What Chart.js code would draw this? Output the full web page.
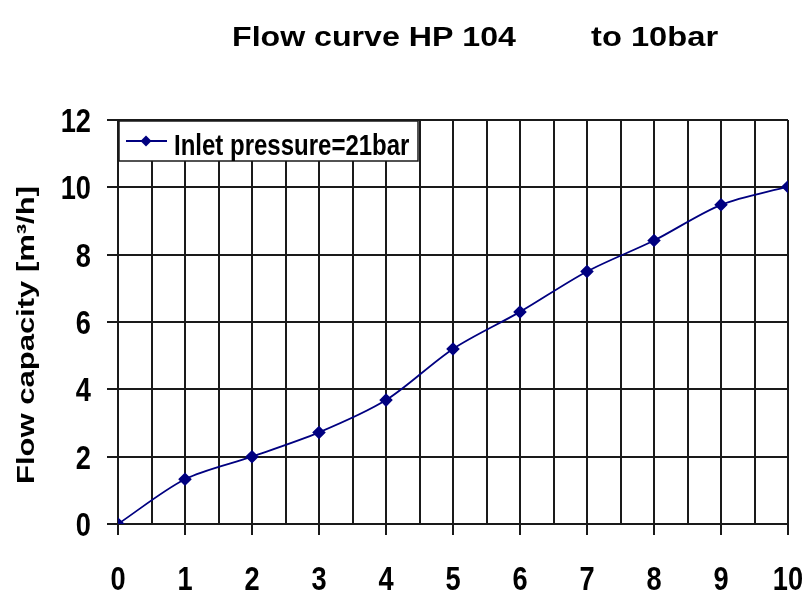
<!DOCTYPE html>
<html>
<head>
<meta charset="utf-8">
<script src="https://cdn.jsdelivr.net/npm/chart.js@4/dist/chart.umd.min.js"></script>
<style>
html,body{margin:0;padding:0;background:#fff;overflow:hidden;}
#wrap{position:relative;width:840px;height:601px;}
</style>
</head>
<body>
<div id="wrap"><canvas id="c"></canvas></div>
<script>
const pressures = [0, 1, 2, 3, 4, 5, 6, 7, 8, 9, 10];
const flow = [0, 1.33, 2.0, 2.72, 3.68, 5.2, 6.3, 7.5, 8.42, 9.48, 10.02];
const yTicks = [0, 2, 4, 6, 8, 10, 12];
const xLabels = ['0', '1', '2', '3', '4', '5', '6', '7', '8', '9', '10'];
const seriesLabel = 'Inlet pressure=21bar';
const titleLeft = 'Flow curve HP 104';
const titleRight = 'to 10bar';
const yTitle = 'Flow capacity [m\u00B3/h]';

const FONT = '"Liberation Sans", Arial, sans-serif';
const LINE = '#000080';
const GRID = '#1a1a1a';
const SQUEEZE = 0.8;

function drawText(c, text, x, y, o) {
  c.save();
  c.translate(x, y);
  if (o.rotate) c.rotate(o.rotate);
  c.scale(o.sx || 1, o.sy || 1);
  c.font = 'bold ' + o.size + 'px ' + FONT;
  c.fillStyle = '#000';
  c.textAlign = o.align || 'left';
  c.textBaseline = o.baseline || 'alphabetic';
  c.fillText(text, 0, 0);
  c.restore();
}

const textPlugin = {
  id: 'texts',
  afterDraw(chart) {
    const c = chart.ctx;
    const xs = chart.scales.x, ys = chart.scales.y;
    drawText(c, titleLeft, 232, 46, {size: 27, sx: 1.19});
    drawText(c, titleRight, 591, 46, {size: 27, sx: 1.21});
    xLabels.forEach((lab, i) => {
      drawText(c, lab, xs.getPixelForValue(pressures[i]), 590, {size: 34, sx: SQUEEZE, align: 'center'});
    });
    yTicks.forEach(v => {
      drawText(c, String(v), 91, ys.getPixelForValue(v) + 12, {size: 34, sx: SQUEEZE, align: 'right'});
    });
    drawText(c, yTitle, 27, (ys.top + ys.bottom) / 2 + 13, {size: 31, rotate: -Math.PI / 2, sy: SQUEEZE, align: 'center', baseline: 'middle'});
  }
};

const legendPlugin = {
  id: 'boxLegend',
  afterDatasetsDraw(chart) {
    const c = chart.ctx;
    const a = chart.chartArea;
    const x0 = a.left + 1, y0 = a.top + 1, w = 299, h = 40;
    c.save();
    c.fillStyle = '#fff';
    c.fillRect(x0, y0, w, h);
    c.strokeStyle = GRID;
    c.lineWidth = 1.5;
    c.strokeRect(x0, y0, w, h);
    const cy = y0 + h / 2;
    c.strokeStyle = LINE;
    c.lineWidth = 1.8;
    c.beginPath();
    c.moveTo(x0 + 7, cy);
    c.lineTo(x0 + 48, cy);
    c.stroke();
    c.fillStyle = LINE;
    c.beginPath();
    const mx = x0 + 27, r = 5.5;
    c.moveTo(mx, cy - r); c.lineTo(mx + r, cy); c.lineTo(mx, cy + r); c.lineTo(mx - r, cy); c.closePath();
    c.fill();
    c.restore();
    drawText(c, chart.data.datasets[0].label, x0 + 55, y0 + 34, {size: 30, sx: SQUEEZE});
  }
};

new Chart(document.getElementById('c'), {
  type: 'line',
  data: {
    datasets: [{
      label: seriesLabel,
      data: pressures.map((p, i) => ({x: p, y: flow[i]})),
      borderColor: LINE,
      backgroundColor: LINE,
      borderWidth: 1.8,
      pointStyle: 'rectRot',
      pointRadius: 5.5,
      pointHoverRadius: 5.5,
      tension: 0.3,
      fill: false
    }]
  },
  options: {
    responsive: true,
    maintainAspectRatio: false,
    animation: false,
    layout: {padding: {top: 120, right: 52, left: 0, bottom: 0}},
    plugins: {legend: {display: false}, title: {display: false}, tooltip: {enabled: false}},
    scales: {
      x: {
        type: 'linear',
        min: 0, max: 10,
        afterBuildTicks(scale) {
          const t = [];
          for (let v = 0; v <= 20; v++) t.push({value: v / 2});
          scale.ticks = t;
        },
        afterFit(scale) { scale.height = 77; },
        grid: {
          color: GRID,
          lineWidth: 2,
          tickLength: 11,
          tickColor: ctx => (ctx.tick && Number.isInteger(ctx.tick.value)) ? GRID : 'rgba(0,0,0,0)',
          drawTicks: true
        },
        border: {color: GRID, width: 2},
        ticks: {display: false, autoSkip: false}
      },
      y: {
        type: 'linear',
        min: 0, max: 12,
        afterBuildTicks(scale) { scale.ticks = yTicks.map(v => ({value: v})); },
        afterFit(scale) { scale.width = 118; },
        grid: {color: GRID, lineWidth: 2, tickLength: 11},
        border: {color: GRID, width: 2},
        ticks: {display: false}
      }
    }
  },
  plugins: [textPlugin, legendPlugin]
});
</script>
</body>
</html>
